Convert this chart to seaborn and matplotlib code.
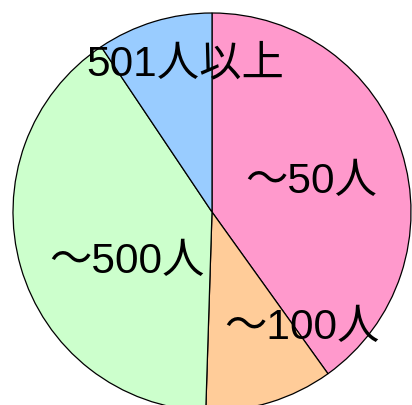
import matplotlib
matplotlib.use("Agg")
import matplotlib.pyplot as plt
import seaborn as sns

# share of each size group
labels = ["～50人", "～100人", "～500人", "501人以上"]
shares = [40.1, 10.4, 40.1, 9.4]
colors = ["#FF99CC", "#FFCC99", "#CCFFCC", "#99CCFF"]

sns.set_theme(style="white")
plt.rcParams["font.family"] = ["Liberation Sans", "Noto Sans CJK JP", "DejaVu Sans"]

fig = plt.figure(figsize=(4.12, 4.05), dpi=100)
ax = fig.add_axes([0, 0, 1, 1])

# pie in pixel coordinates, y measured from the bottom
wedges, _ = ax.pie(shares, colors=sns.color_palette(colors), startangle=90,
                   counterclock=False, center=(212, 193), radius=199,
                   frame=True, wedgeprops=dict(edgecolor="black", linewidth=0.9))
ax.set_xlim(0, 412)
ax.set_ylim(0, 405)
ax.set_aspect("equal")
ax.axis("off")

# label positions (px from top-left)
label_pos = [(311, 182), (302, 328), (127, 262), (185, 64)]
for text, (x, y) in zip(labels, label_pos):
    ax.text(x, 405 - y, text, ha="center", va="center", fontsize=30.5, color="black")

fig.savefig("out.png", dpi=100)
